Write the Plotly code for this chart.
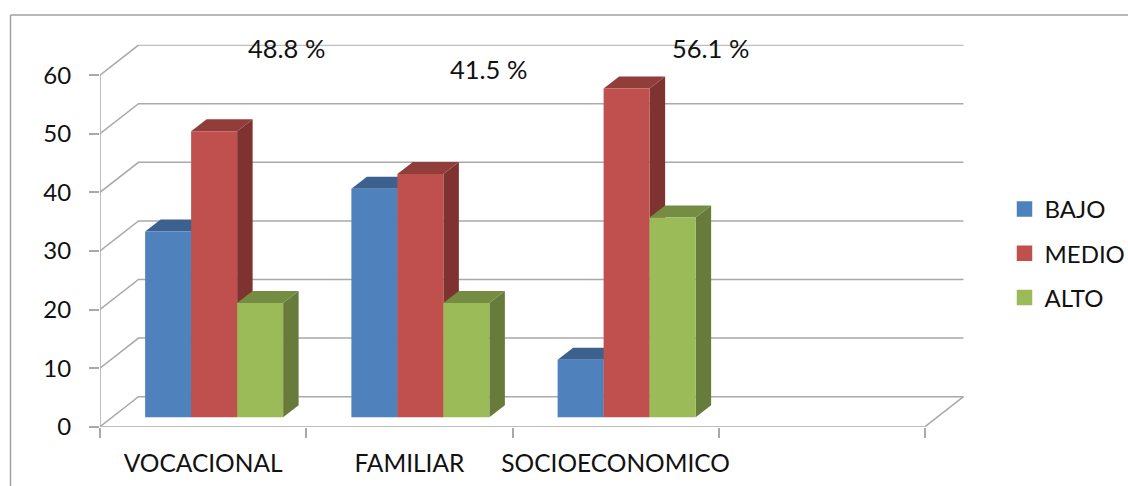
import plotly.graph_objects as go

categories = ["VOCACIONAL", "FAMILIAR", "SOCIOECONOMICO"]
bajo = [31.7, 39.0, 9.8]
medio = [48.8, 41.5, 56.1]
alto = [19.5, 19.5, 34.1]
y_ticks = [0, 10, 20, 30, 40, 50, 60]
notes = ["48.8 %", "41.5 %", "56.1 %"]

W, H = 1128, 486
PX_X0, PX_X1 = 100.0, 965.0      # plot area, pixels
PX_Y0, PX_Y1 = 426.7, 44.7
UX = 206.25                      # pixels per category
UY = 5.86                        # pixels per value unit
x_range = [-0.5, -0.5 + (PX_X1 - PX_X0) / UX]
y_range = [0, (PX_Y0 - PX_Y1) / UY]

wall_dx, wall_dy = 38.5 / UX, 30.0 / UY     # depth of the back wall
bar_dx, bar_dy = 15.5 / UX, 12.0 / UY       # depth of a bar
off_x, off_y = 11.0 / UX, 9.4 / UY          # bars stand inside the floor
bar_w = 46.0 / UX
n_cat = len(categories)

series = [
    ("BAJO", bajo, "#4F81BD", "#34557C", "#3C618E", -1),
    ("MEDIO", medio, "#C0504D", "#7F3330", "#913D3A", 0),
    ("ALTO", alto, "#9BBB59", "#677B3B", "#758D43", 1),
]
GRID = "#A9A9A9"
TXT = "#111111"
FONT = "Lato"
FS = 24

fig = go.Figure()


def line(xs, ys):
    fig.add_trace(go.Scatter(x=xs, y=ys, mode="lines", showlegend=False, hoverinfo="skip",
                             line=dict(color=GRID, width=1.5)))


L, R = -0.5, -0.5 + n_cat + 1
for v in y_ticks:
    line([L, L + wall_dx, R + wall_dx], [v, v + wall_dy, v + wall_dy])
line([L, L], [y_ticks[0], y_ticks[-1]])
line([L, R, R + wall_dx], [0, 0, wall_dy])

# side and top faces, in data space, drawn under the bar fronts
for name, vals, col, side, top, k in series:
    for i, v in enumerate(vals):
        x0 = i + off_x + (k - 0.5) * bar_w
        x1 = x0 + bar_w
        b = off_y
        t = off_y + v
        fig.add_trace(go.Scatter(
            x=[x1, x1 + bar_dx, x1 + bar_dx, x1, x1],
            y=[b, b + bar_dy, t + bar_dy, t, b],
            mode="lines", fill="toself", fillcolor=side, line=dict(width=0),
            showlegend=False, hoverinfo="skip"))
        fig.add_trace(go.Scatter(
            x=[x0, x1, x1 + bar_dx, x0 + bar_dx, x0],
            y=[t, t, t + bar_dy, t + bar_dy, t],
            mode="lines", fill="toself", fillcolor=top, line=dict(width=0),
            showlegend=False, hoverinfo="skip"))

# bar fronts live on an overlaying subplot so that they cover the faces behind
for name, vals, col, side, top, k in series:
    fig.add_trace(go.Bar(
        x=[i + off_x + k * bar_w for i in range(n_cat)],
        y=vals, base=[off_y] * n_cat, width=bar_w, name=name,
        marker=dict(color=col, line=dict(width=0)),
        xaxis="x2", yaxis="y2", showlegend=False))
    fig.add_trace(go.Bar(
        x=[None], y=[None], name=name, legendgroup=name,
        marker=dict(color=col, line=dict(width=3.5, color=col)),
        xaxis="x2", yaxis="y2"))

note_px = [(286, 48), (488, 69), (710, 48)]
annotations = [
    dict(x=(px - PX_X0) / UX - 0.5, y=(PX_Y0 - py) / UY, text=t, showarrow=False,
         xanchor="center", yanchor="middle", xref="x", yref="y",
         font=dict(family=FONT, size=25.5, color=TXT))
    for t, (px, py) in zip(notes, note_px)
]

frame = dict(type="line", xref="paper", yref="paper", line=dict(color="#A0A0A0", width=1.5))
dom_x = [PX_X0 / W, PX_X1 / W]
dom_y = [1 - PX_Y0 / H, 1 - PX_Y1 / H]


def fy(py):
    return 1 - py / H


shapes = [
    dict(frame, x0=10.5 / W, x1=1, y0=fy(15), y1=fy(15)),
    dict(frame, x0=10.5 / W, x1=10.5 / W, y0=0, y1=fy(15)),
]

fig.update_layout(
    width=W, height=H, margin=dict(l=0, r=0, t=0, b=0, autoexpand=False),
    paper_bgcolor="white", plot_bgcolor="white", barmode="overlay",
    font=dict(family=FONT, size=FS, color=TXT),
    showlegend=True, annotations=annotations, shapes=shapes,
    hovermode=False,
    legend=dict(x=1004.5 / W, xanchor="left", y=1 - 187 / H, yanchor="top",
                font=dict(family=FONT, size=FS, color=TXT),
                tracegroupgap=10, itemwidth=30, entrywidth=80, entrywidthmode="pixels",
                bgcolor="rgba(0,0,0,0)"),
    xaxis=dict(domain=dom_x, range=x_range, showgrid=False, zeroline=False, showline=False,
               tickmode="array", tickvals=list(range(n_cat)), ticktext=categories,
               ticks="", ticklabelstandoff=20, tickangle=0, tickfont=dict(size=24.5),
               minor=dict(tickmode="array", tickvals=[i - 0.5 for i in range(n_cat + 2)],
                          ticks="outside", ticklen=10, tickcolor=GRID, tickwidth=1.5, showgrid=False)),
    yaxis=dict(domain=dom_y, range=y_range, showgrid=False, zeroline=False, showline=False,
               tickmode="array", tickvals=y_ticks, ticks="outside", ticklen=10,
               tickcolor=GRID, tickwidth=1.5, ticklabelstandoff=13),
    xaxis2=dict(domain=dom_x, range=x_range, overlaying="x", visible=False),
    yaxis2=dict(domain=dom_y, range=y_range, overlaying="y", visible=False),
)

fig.write_html("out.html", config={"displayModeBar": False},
               post_script="document.body.style.margin='0';")
